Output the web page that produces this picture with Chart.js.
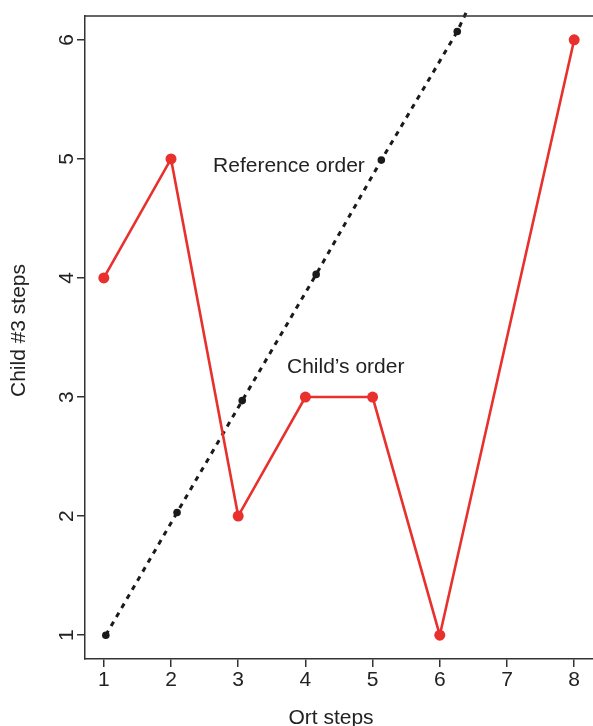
<!DOCTYPE html>
<html>
<head>
<meta charset="utf-8">
<script src="https://cdn.jsdelivr.net/npm/chart.js@4/dist/chart.umd.min.js"></script>
<style>
  html, body { margin: 0; padding: 0; background: #ffffff; }
  #wrap { width: 593px; height: 726px; }
</style>
</head>
<body>
<div id="wrap"><canvas id="c" width="593" height="726"></canvas></div>
<script>
// Child #3's ordering of steps against the reference (Ort) ordering
const ortSteps = [1, 2, 3, 4, 5, 6, 8];
const childSteps = [4, 5, 2, 3, 3, 1, 6];

// Reference order: steps placed on the diagonal
const refOrtSteps = [1.03, 2.09, 3.06, 4.16, 5.13, 6.26];
const refChildSteps = [1, 2.03, 2.97, 4.03, 4.99, 6.07];
// where the dotted reference line runs out past the top of the frame
const refLineEndX = 6.41;
const refLineEndY = 6.25;

const xTicks = [1, 2, 3, 4, 5, 6, 7, 8];
const yTicks = [1, 2, 3, 4, 5, 6];

// in-plot notes, anchored at their text baseline
const noteTexts = ['Reference order', 'Child\u2019s order'];
const noteX = [3.755, 4.6];
const noteY = [4.89, 3.2];

const FONT = '"Liberation Sans", Arial, Helvetica, sans-serif';
const TEXT = '#222222';
const AXIS = '#333333';
const RED = '#e8302d';

const childPoints = ortSteps.map((x, i) => ({ x, y: childSteps[i] }));
const refPoints = refOrtSteps.map((x, i) => ({ x, y: refChildSteps[i] }));
const refLine = refPoints.concat([{ x: refLineEndX, y: refLineEndY }]);

// frame top, rotated y labels, axis titles and in-plot notes
const extras = {
  id: 'extras',
  afterDraw(chart) {
    const ctx = chart.ctx;
    const a = chart.chartArea;
    const xs = chart.scales.x, ys = chart.scales.y;
    ctx.save();
    ctx.strokeStyle = AXIS;
    ctx.lineWidth = 1.5;
    ctx.beginPath();
    ctx.moveTo(a.left, a.top);
    ctx.lineTo(chart.width, a.top);
    ctx.stroke();

    ctx.fillStyle = TEXT;
    ctx.font = '21px ' + FONT;
    ctx.textAlign = 'center';
    ctx.textBaseline = 'alphabetic';
    yTicks.forEach(v => {
      ctx.save();
      ctx.translate(73, ys.getPixelForValue(v));
      ctx.rotate(-Math.PI / 2);
      ctx.fillText(String(v), 0, 0);
      ctx.restore();
    });

    ctx.save();
    ctx.translate(25, (a.top + a.bottom) / 2 - 7);
    ctx.rotate(-Math.PI / 2);
    ctx.fillText('Child #3 steps', 0, 0);
    ctx.restore();

    ctx.fillText('Ort steps', (a.left + a.right) / 2 - 8, 724);

    noteTexts.forEach((t, i) => {
      ctx.fillText(t, xs.getPixelForValue(noteX[i]), ys.getPixelForValue(noteY[i]));
    });
    ctx.restore();
  }
};

new Chart(document.getElementById('c'), {
  type: 'scatter',
  data: {
    datasets: [
      {
        label: 'Child\u2019s order',
        data: childPoints,
        showLine: true,
        borderColor: RED,
        backgroundColor: RED,
        borderWidth: 2.6,
        pointRadius: 5.5,
        pointBorderWidth: 0,
        pointHoverRadius: 5.5,
        tension: 0
      },
      {
        label: 'Reference order line',
        data: refLine,
        showLine: true,
        borderColor: '#1a1a1a',
        borderWidth: 3,
        borderDash: [5, 5.5],
        pointRadius: 0,
        pointHoverRadius: 0,
        clip: 12,
        tension: 0
      },
      {
        label: 'Reference order',
        data: refPoints,
        showLine: false,
        backgroundColor: '#1a1a1a',
        borderWidth: 0,
        pointRadius: 3.8,
        pointHoverRadius: 3.8
      }
    ]
  },
  options: {
    responsive: false,
    animation: false,
    events: [],
    layout: { autoPadding: false, padding: { top: 16, left: 0, right: 0, bottom: 0 } },
    plugins: { legend: { display: false }, tooltip: { enabled: false } },
    scales: {
      x: {
        type: 'linear',
        min: 0.72,
        max: 8.28,
        afterBuildTicks: s => { s.ticks = xTicks.map(v => ({ value: v })); },
        afterFit: s => { s.height = 67; s.paddingLeft = 0; s.paddingRight = 0; },
        grid: { drawOnChartArea: false, drawTicks: true, tickLength: 8, color: AXIS, lineWidth: 1.5 },
        border: { display: true, color: AXIS, width: 1.5 },
        ticks: { color: TEXT, font: { family: FONT, size: 21 }, padding: 1, maxRotation: 0, autoSkip: false }
      },
      y: {
        type: 'linear',
        min: 0.8,
        max: 6.2,
        afterBuildTicks: s => { s.ticks = yTicks.map(v => ({ value: v })); },
        afterFit: s => { s.width = 85; s.paddingTop = 0; s.paddingBottom = 0; },
        grid: { drawOnChartArea: false, drawTicks: true, tickLength: 8, color: AXIS, lineWidth: 1.5 },
        border: { display: true, color: AXIS, width: 1.5 },
        ticks: { display: false }
      }
    }
  },
  plugins: [extras]
});
</script>
</body>
</html>
